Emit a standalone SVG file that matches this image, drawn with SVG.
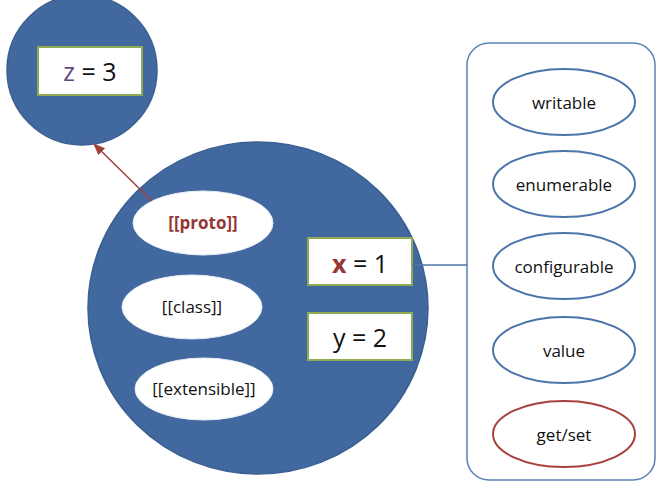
<svg xmlns="http://www.w3.org/2000/svg" width="667" height="492" viewBox="0 0 667 492">
<style>
text{font-family:"Open Sans","Noto Sans",sans-serif;text-anchor:middle;dominant-baseline:central;fill:#111}
.circ{fill:#41699f;stroke:#3a5f90;stroke-width:1.5}
.box{fill:#fff;stroke:#8faa50;stroke-width:2}
.inner{fill:#fff;stroke:#e8eef6;stroke-width:1}
.prop{fill:#fff;stroke:#4a74aa;stroke-width:2}
.prop.red{stroke:#a8403d}
.lbl{font-size:17px}
.big{font-size:25px}
</style>
<defs>
<marker id="ah" viewBox="0 0 10 10" refX="9" refY="5" markerWidth="8" markerHeight="8" orient="auto-start-reverse">
<path d="M0,1 L10,5 L0,9 z" fill="#a0403c"/>
</marker>
</defs>
<rect width="667" height="492" fill="#fff"/>
<g id="proto-object">
<circle class="circ" cx="82" cy="70" r="75"/>
<g id="z-prop">
<rect class="box" x="38" y="47" width="104" height="48"/>
<text class="big" x="90" y="71"><tspan fill="#5f497a">z</tspan> = 3</text>
</g>
</g>
<g id="object">
<ellipse class="circ" cx="258" cy="308" rx="170" ry="166"/>
<g id="proto">
<ellipse class="inner" cx="203" cy="223" rx="70" ry="32"/>
<text class="lbl" x="203" y="222" font-weight="bold" style="fill:#953735">[[proto]]</text>
</g>
<g id="class">
<ellipse class="inner" cx="192" cy="307" rx="70" ry="32"/>
<text class="lbl" x="192" y="306">[[class]]</text>
</g>
<g id="extensible">
<ellipse class="inner" cx="204" cy="389" rx="69" ry="31"/>
<text class="lbl" x="204" y="388">[[extensible]]</text>
</g>
<g id="x-prop">
<rect class="box" x="308" y="238" width="104" height="47"/>
<text class="big" x="360" y="263"><tspan fill="#953735" font-weight="bold">x</tspan> = 1</text>
</g>
<g id="y-prop">
<rect class="box" x="308" y="313" width="104" height="47"/>
<text class="big" x="360" y="337">y = 2</text>
</g>
</g>
<g id="descriptor">
<rect x="467" y="43" width="188" height="437" rx="22" fill="#fff" stroke="#5a82b6" stroke-width="1.5"/>
<g id="writable"><ellipse class="prop" cx="564" cy="102" rx="71" ry="33"/><text class="lbl" x="564" y="102">writable</text></g>
<g id="enumerable"><ellipse class="prop" cx="564" cy="184" rx="71" ry="33"/><text class="lbl" x="564" y="184">enumerable</text></g>
<g id="configurable"><ellipse class="prop" cx="564" cy="266" rx="71" ry="33"/><text class="lbl" x="564" y="266">configurable</text></g>
<g id="value"><ellipse class="prop" cx="564" cy="350" rx="71" ry="33"/><text class="lbl" x="564" y="350">value</text></g>
<g id="getset"><ellipse class="prop red" cx="564" cy="434" rx="71" ry="33"/><text class="lbl" x="564" y="434">get/set</text></g>
</g>
<g id="connectors">
<line x1="152" y1="201" x2="94" y2="144" stroke="#a0403c" stroke-width="1.5" marker-end="url(#ah)"/>
<line x1="412" y1="265" x2="467" y2="265" stroke="#4a74aa" stroke-width="1.5"/>
</g>
</svg>
